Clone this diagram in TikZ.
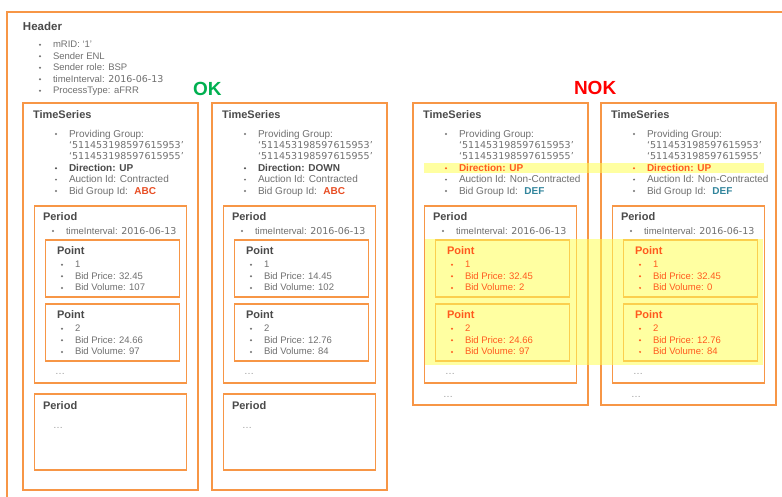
\documentclass[tikz,border=0pt]{standalone}
\usepackage{fontspec}
\setmainfont{Liberation Sans}
\newfontfamily\dvfont{DejaVu Sans}
\usetikzlibrary{shadows,calc}
\pgfdeclarelayer{bg}\pgfdeclarelayer{bx}\pgfdeclarelayer{bd}
\pgfsetlayers{bg,bx,bd,main}
\definecolor{borderc}{HTML}{F79646}
\definecolor{titlec}{HTML}{4A4A4A}
\definecolor{txtc}{HTML}{707070}
\definecolor{dotc}{HTML}{9A9A9A}
\definecolor{okc}{HTML}{00B050}
\definecolor{nokc}{HTML}{FF0000}
\definecolor{hotc}{RGB}{255,90,30}
\definecolor{abcc}{HTML}{E84C22}
\definecolor{defc}{HTML}{31859C}
\definecolor{bandc}{HTML}{FFFF55}
\tikzset{
 box/.style={draw=borderc, line width=1.1pt, fill=white, inner sep=0pt, outer sep=0pt,
   drop shadow={shadow xshift=0.7pt, shadow yshift=-0.9pt, opacity=0.25, fill=black}},
 band/.style={fill=bandc, fill opacity=0.55, inner sep=0pt, outer sep=0pt, draw=none},
 txt/.style={anchor=base west, inner sep=0pt, outer sep=0pt, font=\fontsize{9.5}{11}\selectfont, text=txtc},
 ttl/.style={txt, font=\fontsize{11}{13}\selectfont\bfseries, text=titlec},
 hdrttl/.style={txt, font=\fontsize{11.5}{13}\selectfont\bfseries, text=titlec},
 bdot/.style={circle, inner sep=0pt, minimum size=2.2pt, draw=none},
 dots/.style={txt, font=\fontsize{10}{12}\selectfont, text=dotc},
 big/.style={txt, font=\fontsize{19}{22}\selectfont\bfseries},
}
\newcount\ndcount
\newcommand\tsf{\fontsize{10}{12}\selectfont}
\newcommand\dvf{\dvfont\fontsize{9.5}{11}\selectfont}
\newcommand\mytxt[4][]{\global\advance\ndcount by 1\relax
 \node[txt,#1] (n\the\ndcount) at ({#2},{#3}) {#4};}
\newcommand\mybul[4][txtc]{\global\advance\ndcount by 1\relax
 \node[bdot, fill=#1] (n\the\ndcount) at ({#2},{#3-3}) {};%
 \global\advance\ndcount by 1\relax
 \node[txt, text=#1] (n\the\ndcount) at ({#2+13},{#3}) {#4};}
\newcommand\mybox[5]{\begin{pgfonlayer}{bx}
 \node[box, minimum width=#4pt, minimum height=#5pt, anchor=north west] (#1) at ({#2},{#3}) {};
 \end{pgfonlayer}}
\newcommand\tsBoxes[3]{%
 \mybox{#2}{#1}{103}{175}{#3}
 \mybox{#2per}{#1+11.5}{206}{152}{177}
 \mybox{#2pa}{#1+22.5}{240}{134}{57}
 \mybox{#2pb}{#1+22.5}{304}{134}{57}}
\newcommand\tsText[5]{%
 \mytxt[ttl]{#1+10}{118}{TimeSeries}
 \mybul{#1+33}{137}{\tsf Providing Group:}
 \mytxt{#1+46}{148.4}{\dvf ‘511453198597615953’}
 \mytxt{#1+46}{159.8}{\dvf ‘511453198597615955’}
 \mybul[#2]{#1+33}{171.2}{\tsf\bfseries #3}
 \mybul{#1+33}{182.6}{\tsf Auction Id: #4}
 \mybul{#1+33}{194}{\tsf Bid Group Id:~ #5}
 \mytxt[ttl]{#1+20}{220.7}{Period}
 \mybul{#1+30}{234}{timeInterval: {\dvf 2016-06-13}}
 \mytxt[dots]{#1+32}{374.5}{…}}
\newcommand\ptText[7]{%
 \mytxt[ttl,text=#3]{#1+34}{254+#2}{Point}
 \mybul[#4]{#1+39}{267.7+#2}{#5}
 \mybul[#4]{#1+39}{279.3+#2}{Bid Price: #6}
 \mybul[#4]{#1+39}{290.9+#2}{Bid Volume: #7}}
\begin{document}
\begin{tikzpicture}[x=1pt,y=-1pt]
\useasboundingbox (0,0) rectangle (782,496);
\begin{pgfonlayer}{bg}
\fill[white] (0,0) rectangle (782,496);
\end{pgfonlayer}
% outer header box
\mybox{hdr}{7}{12}{800}{520}
% boxes
\tsBoxes{23}{tsa}{387}
\mybox{tsaperb}{23+11.5}{394}{152}{76}
\tsBoxes{212}{tsb}{387}
\mybox{tsbperb}{212+11.5}{394}{152}{76}
\tsBoxes{413}{tsc}{302}
\tsBoxes{601}{tsd}{302}
% highlight bands
\begin{pgfonlayer}{bd}
\node[band, minimum width=340pt, minimum height=10pt, anchor=north west] (hlA) at (424,163) {};
\node[band, minimum width=338pt, minimum height=126pt, anchor=north west] (hlB) at (425,239) {};
\end{pgfonlayer}
% header text
\mytxt[hdrttl]{23}{30.7}{Header}
\mybul{40}{47.7}{mRID: ‘1’}
\mybul{40}{59.2}{Sender ENL}
\mybul{40}{70.7}{Sender role: BSP}
\mybul{40}{82.2}{timeInterval: {\dvf 2016-06-13}}
\mybul{40}{93.7}{ProcessType: aFRR}
\mytxt[big,text=okc]{193}{95}{OK}
\mytxt[big,text=nokc]{574}{94.5}{NOK}
% TS1
\tsText{23}{titlec}{Direction: UP}{Contracted}{\textcolor{abcc}{\bfseries ABC}}
\ptText{23}{0}{titlec}{txtc}{1}{32.45}{107}
\ptText{23}{64}{titlec}{txtc}{2}{24.66}{97}
\mytxt[ttl]{23+20}{409.5}{Period}
\mytxt[dots]{23+30}{428}{…}
% TS2
\tsText{212}{titlec}{Direction: DOWN}{Contracted}{\textcolor{abcc}{\bfseries ABC}}
\ptText{212}{0}{titlec}{txtc}{1}{14.45}{102}
\ptText{212}{64}{titlec}{txtc}{2}{12.76}{84}
\mytxt[ttl]{212+20}{409.5}{Period}
\mytxt[dots]{212+30}{428}{…}
% TS3
\tsText{413}{hotc}{Direction: UP}{Non-Contracted}{\textcolor{defc}{\bfseries DEF}}
\ptText{413}{0}{hotc}{hotc}{1}{32.45}{2}
\ptText{413}{64}{hotc}{hotc}{2}{24.66}{97}
\mytxt[dots]{413+30}{397.5}{…}
% TS4
\tsText{601}{hotc}{Direction: UP}{Non-Contracted}{\textcolor{defc}{\bfseries DEF}}
\ptText{601}{0}{hotc}{hotc}{1}{32.45}{0}
\ptText{601}{64}{hotc}{hotc}{2}{12.76}{84}
\mytxt[dots]{601+30}{397.5}{…}
\end{tikzpicture}
\end{document}
